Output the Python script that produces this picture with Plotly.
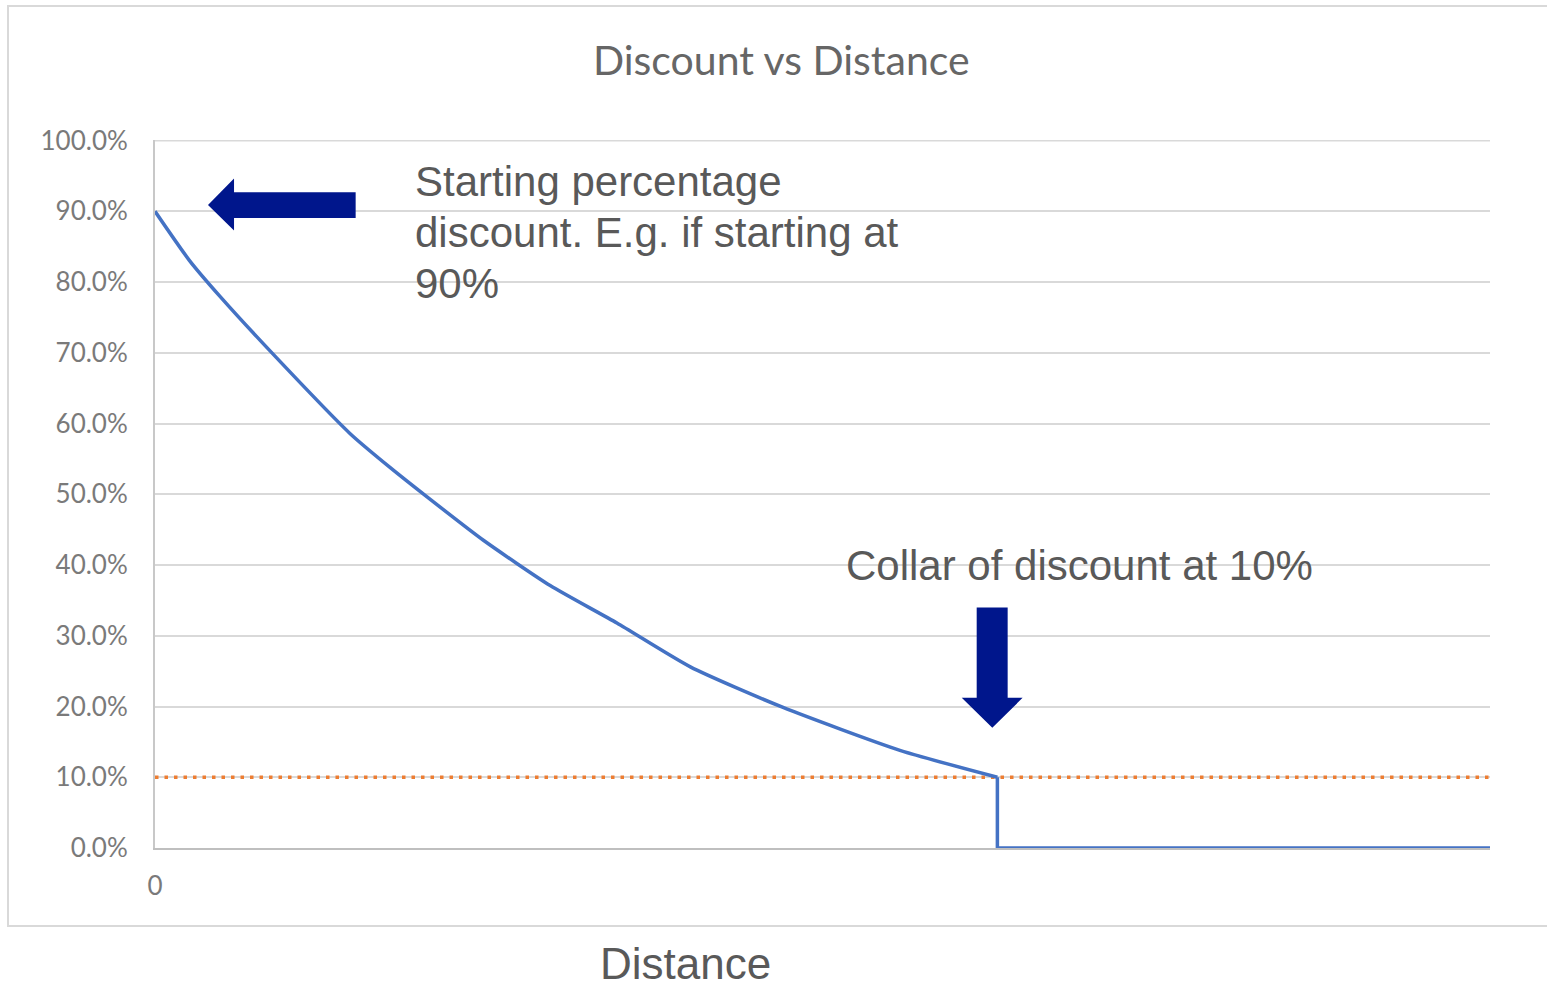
import plotly.graph_objects as go

# ---- data ----
distance = [0, 2.6, 4.9, 8.6, 14.6, 17.6, 20.4, 24.6, 29.6, 34.6, 40.1, 47.0, 55.8, 63.1, 63.1, 100]
discount = [0.90, 0.830, 0.779, 0.703, 0.586, 0.538, 0.496, 0.435, 0.371, 0.318, 0.256, 0.199, 0.138, 0.100, 0.0, 0.0]
collar_x = [0, 100]
collar_y = [0.10, 0.10]
y_ticks = [i / 10 for i in range(11)]
x_ticks = [0]
x_ticktext = ["0"]

TEXT = "#595959"
GRID = "#d9d9d9"
NAVY = "#00168C"
BLUE = "#4472C4"

# split: smooth decay part, then the drop to zero at the collar
k = discount.index(0.100) + 1

fig = go.Figure()
fig.add_trace(go.Scatter(x=collar_x, y=collar_y, mode="lines",
                         line=dict(color="#ED7D31", width=3.5, dash="3.5px,6px"),
                         hoverinfo="skip", showlegend=False))
fig.add_trace(go.Scatter(x=distance[:k], y=discount[:k], mode="lines",
                         line=dict(color=BLUE, width=3.5, shape="spline", smoothing=0.6),
                         showlegend=False))
fig.add_trace(go.Scatter(x=distance[k - 1:], y=discount[k - 1:], mode="lines",
                         line=dict(color=BLUE, width=3.5),
                         showlegend=False))

W, H = 1547, 990
L, R, T, B = 155, 1490, 140, 848


def px(x):
    return (x - L) / (R - L)


def py(y):
    return (B - y) / (B - T)


shapes = [
    # outer chart-area border
    dict(type="rect", xref="paper", yref="paper",
         x0=px(8), x1=px(1600), y0=py(926), y1=py(6),
         line=dict(color=GRID, width=2), fillcolor="rgba(0,0,0,0)", layer="below"),
    # top (100%) gridline, which plotly omits at the plot edge
    dict(type="line", xref="paper", yref="y", x0=0, x1=1, y0=y_ticks[-1], y1=y_ticks[-1],
         line=dict(color=GRID, width=2), layer="below"),
    # left block arrow
    dict(type="path", xref="x", yref="y",
         path="M 3.97,0.9089 L 5.92,0.9463 L 5.92,0.9268 L 15.03,0.9268 L 15.03,0.8906 "
              "L 5.92,0.8906 L 5.92,0.8729 Z",
         fillcolor=NAVY, line=dict(width=0)),
    # down block arrow
    dict(type="path", xref="x", yref="y",
         path="M 61.55,0.340 L 63.87,0.340 L 63.87,0.2123 L 64.99,0.2123 L 62.72,0.1699 "
              "L 60.43,0.2123 L 61.55,0.2123 Z",
         fillcolor=NAVY, line=dict(width=0)),
]

ann_font = dict(family="Liberation Sans, Arial, sans-serif", size=42, color=TEXT)
annotations = [
    dict(text="Discount vs Distance", xref="paper", yref="paper",
         x=px(781.5), y=py(60), xanchor="center", yanchor="middle", showarrow=False,
         font=dict(family="Lato, Open Sans, sans-serif", size=41, color="#666666")),
    dict(text="Distance", xref="paper", yref="paper",
         x=px(685), y=py(990), xanchor="center", yanchor="bottom", showarrow=False,
         font=dict(family="Liberation Sans, Arial, sans-serif", size=44, color=TEXT)),
    dict(text="Starting percentage", xref="x", yref="y", x=19.3, y=0.942,
         xanchor="left", yanchor="middle", showarrow=False, font=ann_font),
    dict(text="discount. E.g. if starting at", xref="x", yref="y", x=19.3, y=0.870,
         xanchor="left", yanchor="middle", showarrow=False, font=ann_font),
    dict(text="90%", xref="x", yref="y", x=19.3, y=0.798,
         xanchor="left", yanchor="middle", showarrow=False, font=ann_font),
    dict(text="Collar of discount at 10%", xref="x", yref="y", x=51.6, y=0.400,
         xanchor="left", yanchor="middle", showarrow=False, font=ann_font),
]

fig.update_layout(
    width=W, height=H,
    margin=dict(l=L, r=W - R, t=T, b=H - B, pad=0),
    paper_bgcolor="white", plot_bgcolor="white",
    shapes=shapes, annotations=annotations,
    showlegend=False,
    xaxis=dict(range=[0, 100], tickvals=x_ticks, ticktext=x_ticktext,
               showgrid=False, zeroline=False, showline=True,
               linecolor="#bfbfbf", linewidth=2, ticks="",
               ticklabelstandoff=14,
               tickfont=dict(family="Lato, Open Sans, sans-serif", size=26, color="#7a7a7a")),
    yaxis=dict(range=[0, 1.0008], tickvals=y_ticks, tickformat=".1%",
               showgrid=True, gridcolor=GRID, gridwidth=2,
               zeroline=False, showline=True, linecolor="#c8c8c8", linewidth=2,
               ticks="", ticklabelstandoff=20,
               tickfont=dict(family="Lato, Open Sans, sans-serif", size=26, color="#7a7a7a")),
)

fig.write_html("out.html")
